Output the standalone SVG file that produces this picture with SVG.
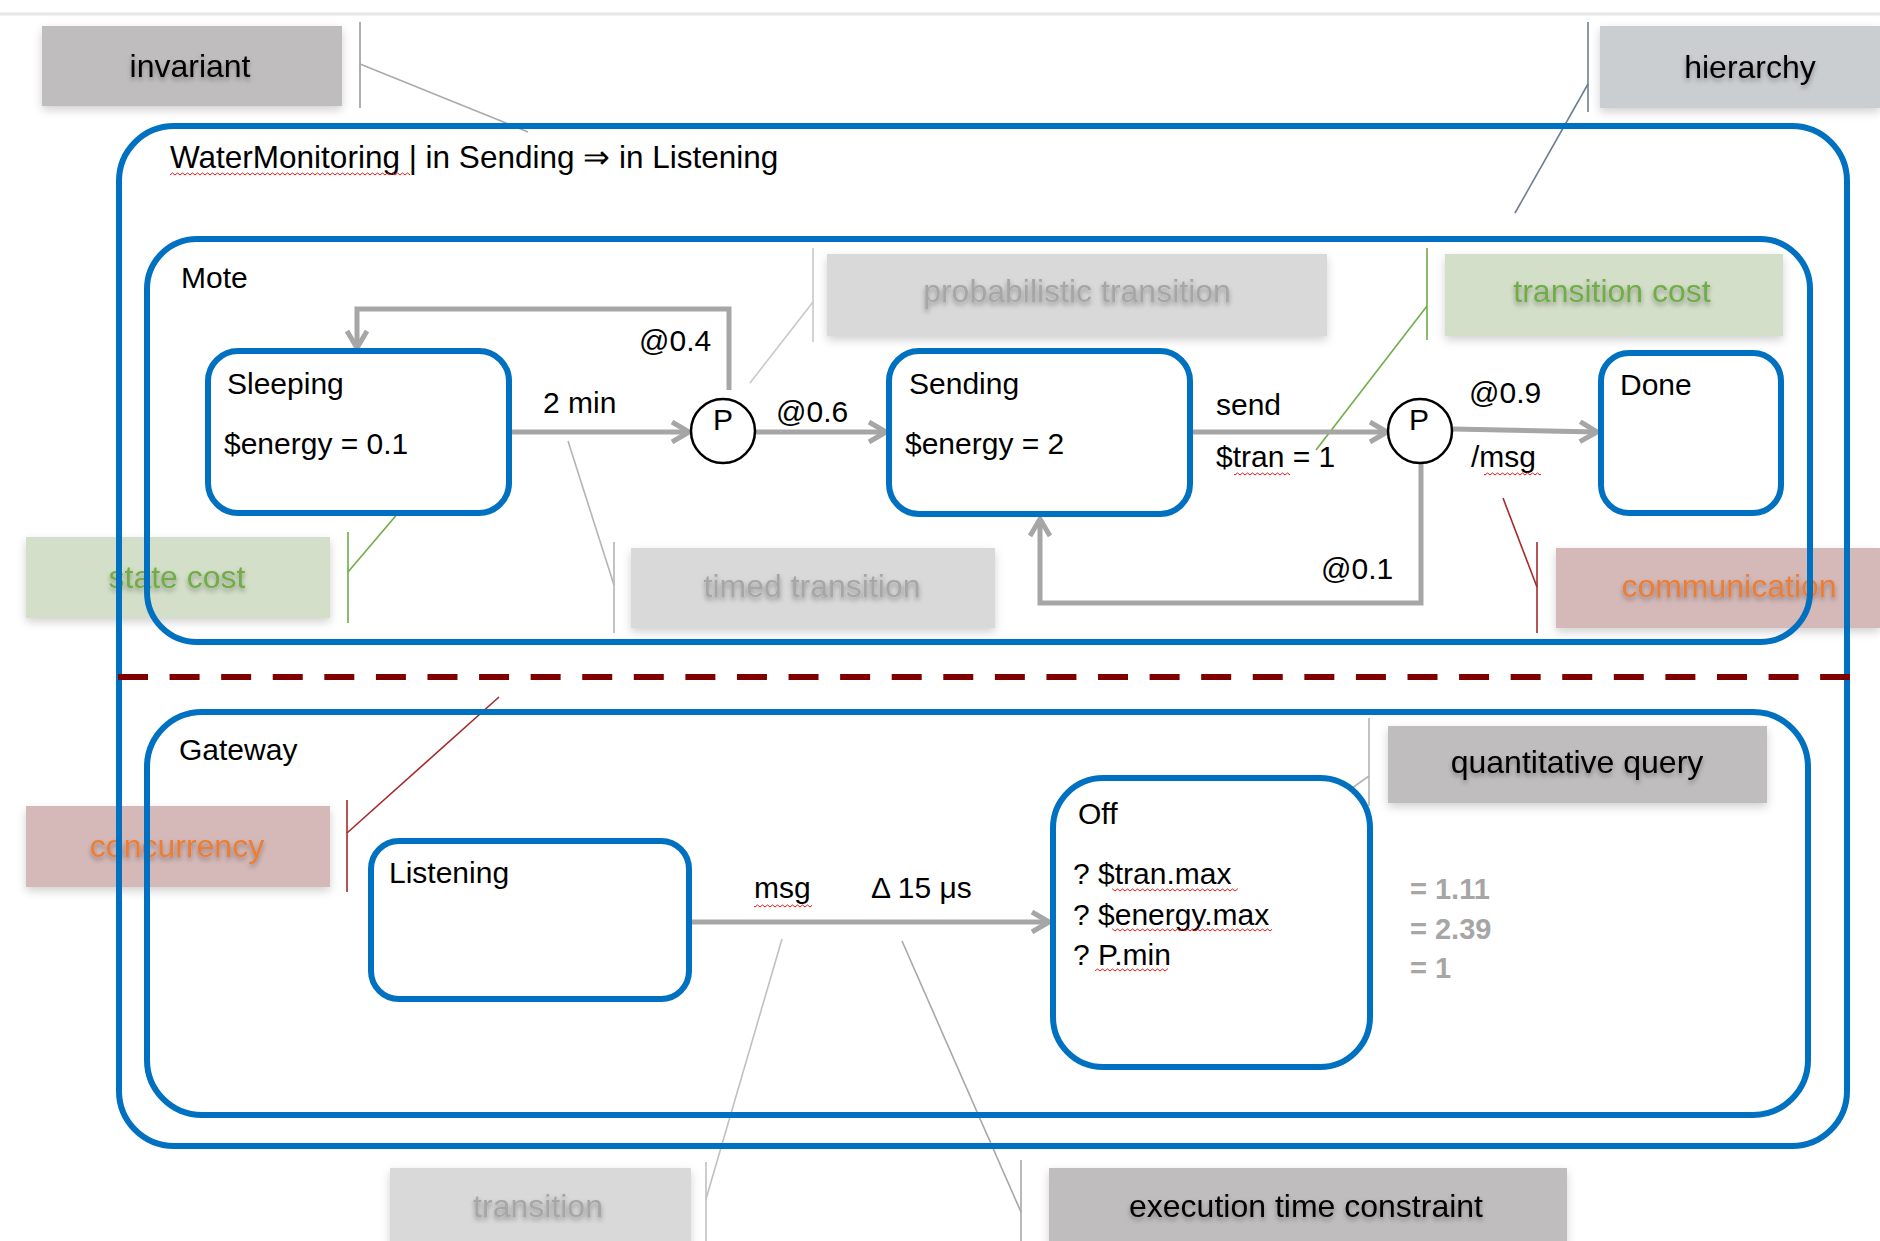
<svg xmlns="http://www.w3.org/2000/svg" width="1880" height="1241" viewBox="0 0 1880 1241">
<style>
.t{font-family:"Liberation Sans",Arial,sans-serif;font-size:30px;fill:#000}
.title{font-size:31.5px}
.lbl{font-family:"Liberation Sans",Arial,sans-serif;font-size:32px;text-anchor:middle}
.frame{fill:none;stroke:#0070c0;stroke-width:6}
.state{fill:#fff;stroke:#0070c0;stroke-width:6}
.conn{fill:none;stroke:#a6a6a6;stroke-width:5}
.pseudo{fill:#fff;stroke:#000;stroke-width:2.5}
.co{fill:none;stroke-width:1.6}
.res{font-family:"Liberation Sans",Arial,sans-serif;font-size:29px;fill:#a6a6a6;font-weight:bold}
</style>
<defs>
<marker id="arr" viewBox="0 0 24 24" refX="21" refY="12" markerWidth="24" markerHeight="24" markerUnits="userSpaceOnUse" orient="auto">
<path d="M4,2 L21,12 L4,22" fill="none" stroke="#a6a6a6" stroke-width="5" stroke-linejoin="round"/>
</marker>
<pattern id="wavy" width="5" height="4" patternUnits="userSpaceOnUse">
<path d="M0,3 L2.5,1 L5,3" fill="none" stroke="#e01818" stroke-width="1"/>
</pattern>
<filter id="bsh" x="-10%" y="-20%" width="120%" height="150%">
<feDropShadow dx="0" dy="4" stdDeviation="5" flood-color="#000" flood-opacity="0.18"/>
</filter>
<filter id="tsh" x="-10%" y="-30%" width="120%" height="170%">
<feDropShadow dx="0" dy="3" stdDeviation="2.5" flood-color="#000" flood-opacity="0.35"/>
</filter>
</defs>
<rect width="1880" height="1241" fill="#fff"/>
<line x1="0" y1="14" x2="1880" y2="14" stroke="#e6e6e6" stroke-width="3"/>

<g id="callout-invariant">
<rect x="42" y="26" width="300" height="80" fill="#bfbdbd" filter="url(#bsh)"/>
<text class="lbl" x="190" y="77" fill="#000" filter="url(#tsh)">invariant</text>
<line class="co" x1="360" y1="22" x2="360" y2="108" stroke="#999"/>
<line class="co" x1="360" y1="64" x2="528" y2="132" stroke="#aaa"/>
</g>
<g id="callout-hierarchy">
<rect x="1600" y="26" width="280" height="82" fill="#cbced1" filter="url(#bsh)"/>
<text class="lbl" x="1750" y="78" fill="#000" filter="url(#tsh)">hierarchy</text>
<line class="co" x1="1588" y1="22" x2="1588" y2="112" stroke="#6f7f90"/>
<line class="co" x1="1588" y1="84" x2="1515" y2="213" stroke="#6f7f90"/>
</g>
<g id="callout-probabilistic">
<rect x="827" y="254" width="500" height="82" fill="#d9d9d9" filter="url(#bsh)"/>
<text class="lbl" x="1077" y="302" fill="#a6a6a6" filter="url(#tsh)">probabilistic transition</text>
<line class="co" x1="813" y1="248" x2="813" y2="342" stroke="#c8c8c8"/>
<line class="co" x1="813" y1="302" x2="750" y2="383" stroke="#c8c8c8"/>
</g>
<g id="callout-transition-cost">
<rect x="1445" y="254" width="338" height="82" fill="#d3dfc8" filter="url(#bsh)"/>
<text class="lbl" x="1612" y="302" fill="#70ad47" filter="url(#tsh)">transition cost</text>
<line class="co" x1="1427" y1="248" x2="1427" y2="340" stroke="#70ad47"/>
<line class="co" x1="1427" y1="306" x2="1316" y2="450" stroke="#70ad47"/>
</g>
<g id="callout-state-cost">
<rect x="26" y="537" width="304" height="81" fill="#d3dfc8" filter="url(#bsh)"/>
<text class="lbl" x="177" y="588" fill="#70ad47" filter="url(#tsh)">state cost</text>
<line class="co" x1="348" y1="532" x2="348" y2="623" stroke="#70ad47"/>
<line class="co" x1="348" y1="572" x2="416" y2="492" stroke="#70ad47"/>
</g>
<g id="callout-timed">
<rect x="631" y="548" width="364" height="80" fill="#d9d9d9" filter="url(#bsh)"/>
<text class="lbl" x="812" y="597" fill="#a6a6a6" filter="url(#tsh)">timed transition</text>
<line class="co" x1="614" y1="542" x2="614" y2="633" stroke="#b4b4b4"/>
<line class="co" x1="614" y1="585" x2="568" y2="441" stroke="#b4b4b4"/>
</g>
<g id="callout-communication">
<rect x="1556" y="548" width="324" height="80" fill="#d5b9b9" filter="url(#bsh)"/>
<text class="lbl" x="1729" y="597" fill="#ed7d31" filter="url(#tsh)">communication</text>
<line class="co" x1="1537" y1="542" x2="1537" y2="633" stroke="#a52a2a"/>
<line class="co" x1="1537" y1="587" x2="1503" y2="498" stroke="#a52a2a"/>
</g>
<g id="callout-concurrency">
<rect x="26" y="806" width="304" height="81" fill="#d5b9b9" filter="url(#bsh)"/>
<text class="lbl" x="177" y="857" fill="#ed7d31" filter="url(#tsh)">concurrency</text>
<line class="co" x1="347" y1="800" x2="347" y2="892" stroke="#a52a2a"/>
<line class="co" x1="347" y1="833" x2="499" y2="697" stroke="#a52a2a"/>
</g>
<g id="callout-query">
<rect x="1388" y="726" width="379" height="77" fill="#bfbdbd" filter="url(#bsh)"/>
<text class="lbl" x="1577" y="773" fill="#000" filter="url(#tsh)">quantitative query</text>
<line class="co" x1="1369" y1="718" x2="1369" y2="806" stroke="#b4b4b4"/>
<line class="co" x1="1369" y1="776" x2="1272" y2="845" stroke="#b4b4b4"/>
</g>
<g id="callout-transition">
<rect x="390" y="1168" width="301" height="80" fill="#d9d9d9" filter="url(#bsh)"/>
<text class="lbl" x="538" y="1217" fill="#a6a6a6" filter="url(#tsh)">transition</text>
<line class="co" x1="706" y1="1162" x2="706" y2="1241" stroke="#c0c0c0"/>
<line class="co" x1="706" y1="1199" x2="782" y2="939" stroke="#c0c0c0"/>
</g>
<g id="callout-exec">
<rect x="1049" y="1168" width="518" height="80" fill="#bfbdbd" filter="url(#bsh)"/>
<text class="lbl" x="1306" y="1217" fill="#000" filter="url(#tsh)">execution time constraint</text>
<line class="co" x1="1021" y1="1160" x2="1021" y2="1241" stroke="#a8a8a8"/>
<line class="co" x1="1021" y1="1212" x2="902" y2="941" stroke="#a8a8a8"/>
</g>

<g id="WaterMonitoring">
<rect class="frame" x="119" y="126" width="1728" height="1020" rx="55"/>
<text class="t title" x="170" y="168">WaterMonitoring | in Sending ⇒ in Listening</text>
<rect x="170" y="172" width="240" height="4" fill="url(#wavy)"/>
</g>
<g id="Mote">
<rect class="frame" x="147" y="239" width="1663" height="403" rx="50"/>
<text class="t" x="181" y="288">Mote</text>
</g>
<line id="concurrency-separator" x1="118" y1="677" x2="1850" y2="677" stroke="#800000" stroke-width="6" stroke-dasharray="30 21.58"/>
<g id="Gateway">
<rect class="frame" x="147" y="712" width="1661" height="403" rx="55"/>
<text class="t" x="179" y="760">Gateway</text>
</g>

<g id="connectors">
<path class="conn" d="M512,432 H689" marker-end="url(#arr)"/>
<path class="conn" d="M756,432 H886" marker-end="url(#arr)"/>
<path class="conn" d="M729,390 V309 H357 V348" marker-end="url(#arr)"/>
<path class="conn" d="M1193,432 H1387" marker-end="url(#arr)"/>
<path class="conn" d="M1453,429 L1597,432" marker-end="url(#arr)"/>
<path class="conn" d="M1421,464 V603 H1040 V519" marker-end="url(#arr)"/>
<path class="conn" d="M692,922 H1049" marker-end="url(#arr)"/>
<text class="t" x="543" y="413">2 min</text>
<text class="t" x="639" y="351">@0.4</text>
<text class="t" x="776" y="422">@0.6</text>
<text class="t" x="1216" y="415">send</text>
<text class="t" x="1216" y="467">$tran = 1</text>
<rect x="1234" y="472" width="56" height="4" fill="url(#wavy)"/>
<text class="t" x="1469" y="403">@0.9</text>
<text class="t" x="1471" y="467">/msg</text>
<rect x="1484" y="472" width="57" height="4" fill="url(#wavy)"/>
<text class="t" x="1321" y="579">@0.1</text>
<text class="t" x="754" y="898">msg</text>
<rect x="754" y="904" width="58" height="4" fill="url(#wavy)"/>
<text class="t" x="871" y="898">Δ 15 μs</text>
</g>

<g id="Sleeping">
<rect class="state" x="208" y="351" width="301" height="162" rx="30"/>
<text class="t" x="227" y="394">Sleeping</text>
<text class="t" x="224" y="454">$energy = 0.1</text>
</g>
<g id="P1">
<circle class="pseudo" cx="723" cy="431" r="32"/>
<text class="t" x="723" y="430" text-anchor="middle" font-size="28">P</text>
</g>
<g id="Sending">
<rect class="state" x="889" y="351" width="301" height="163" rx="30"/>
<text class="t" x="909" y="394">Sending</text>
<text class="t" x="905" y="454">$energy = 2</text>
</g>
<g id="P2">
<circle class="pseudo" cx="1420" cy="431" r="32"/>
<text class="t" x="1419" y="430" text-anchor="middle" font-size="28">P</text>
</g>
<g id="Done">
<rect class="state" x="1601" y="353" width="180" height="160" rx="28"/>
<text class="t" x="1620" y="395">Done</text>
</g>
<g id="Listening">
<rect class="state" x="371" y="841" width="318" height="158" rx="28"/>
<text class="t" x="389" y="883">Listening</text>
</g>
<g id="Off">
<rect class="state" x="1053" y="778" width="317" height="289" rx="50"/>
<text class="t" x="1078" y="824">Off</text>
<text class="t" x="1073" y="884">? $tran.max</text>
<rect x="1112" y="888" width="126" height="4" fill="url(#wavy)"/>
<text class="t" x="1073" y="925">? $energy.max</text>
<rect x="1112" y="928" width="160" height="4" fill="url(#wavy)"/>
<text class="t" x="1073" y="965">? P.min</text>
<rect x="1095" y="968" width="73" height="4" fill="url(#wavy)"/>
</g>
<g id="results">
<text class="res" x="1410" y="899">= 1.11</text>
<text class="res" x="1410" y="939">= 2.39</text>
<text class="res" x="1410" y="978">= 1</text>
</g>
</svg>
